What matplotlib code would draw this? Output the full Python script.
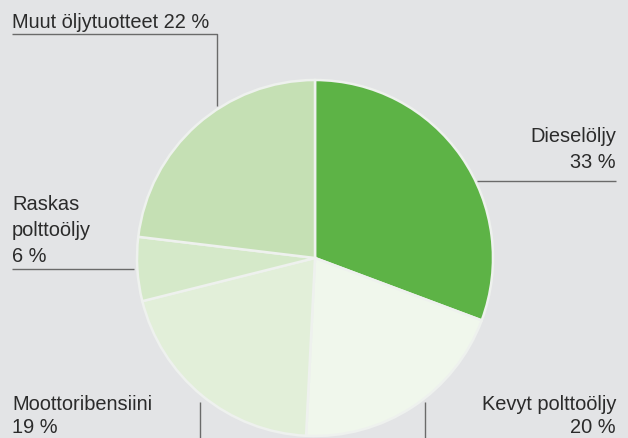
import matplotlib.pyplot as plt

plt.rcParams['font.family'] = ['Liberation Sans', 'DejaVu Sans']

# shares as drawn (angles), clockwise from 12 o'clock
names = ['Dieselöljy', 'Kevyt polttoöljy', 'Moottoribensiini', 'Raskas polttoöljy', 'Muut öljytuotteet']
shares = [30.7, 20.1, 20.3, 5.8, 23.1]
pct_labels = ['33 %', '20 %', '19 %', '6 %', '22 %']
colors = ['#5db346', '#f0f7ec', '#e2efd9', '#d5e9c9', '#c5e0b4']

bg = '#e3e4e6'
txt = '#2b2b2b'
lc = '#6a6a6a'
fs = 14.4

fig = plt.figure(figsize=(6.28, 4.38), dpi=100, facecolor=bg)
ax = fig.add_axes([0, 0, 1, 1])
ax.set_facecolor(bg)

H = 438
ax.pie(shares, colors=colors, startangle=90, counterclock=False,
       center=(315, H - 258), radius=178,
       wedgeprops=dict(edgecolor='#eef1ee', linewidth=1.8))
ax.set_xlim(0, 628)
ax.set_ylim(0, 438)
ax.set_aspect('auto')
ax.axis('off')


def line(xs, ys):
    ax.plot(xs, [H - y for y in ys], color=lc, lw=1.0, solid_capstyle='butt')


def txt_line(x, y, s, ha='left'):
    ax.text(x, H - y, s, ha=ha, va='baseline', fontsize=fs, color=txt)


# Muut öljytuotteet
txt_line(12, 28, names[4] + ' ' + pct_labels[4])
line([12, 217, 217], [34, 34, 106])

# Dieselöljy
txt_line(616, 142, names[0], ha='right')
txt_line(616, 168, pct_labels[0], ha='right')
line([477, 616], [181, 181])

# Raskas polttoöljy
txt_line(12, 210, 'Raskas')
txt_line(12, 236, 'polttoöljy')
txt_line(12, 262, pct_labels[3])
line([12, 134], [269, 269])

# Moottoribensiini
txt_line(12, 410, names[2])
txt_line(12, 433, pct_labels[2])
line([200, 200], [402, 438])

# Kevyt polttoöljy
txt_line(616, 410, names[1], ha='right')
txt_line(616, 433, pct_labels[1], ha='right')
line([425, 425], [402, 438])

fig.savefig('out.png', dpi=100, facecolor=bg)
